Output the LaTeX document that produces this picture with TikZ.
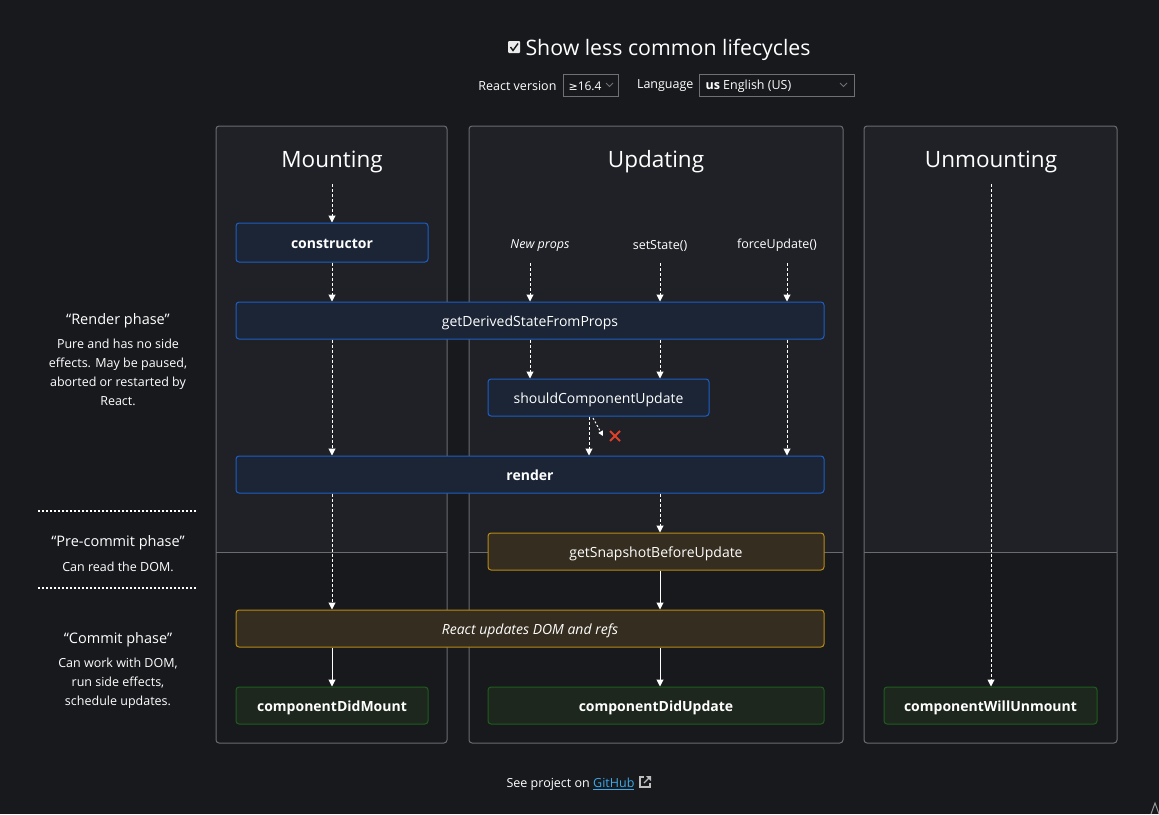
\documentclass[tikz,border=0pt]{standalone}
\usepackage{fontspec}
\setmainfont{Open Sans}
\newfontfamily\symfont{DejaVu Sans}
\usetikzlibrary{arrows.meta}
\definecolor{bg}{HTML}{18191D}
\definecolor{colbg}{HTML}{202126}
\definecolor{colline}{HTML}{6A6B70}
\definecolor{bluebd}{HTML}{1D5FC4}
\definecolor{bluefill}{HTML}{1B2536}
\definecolor{orbd}{HTML}{B98A14}
\definecolor{orfill}{HTML}{352D1F}
\definecolor{grbd}{HTML}{1D5E1D}
\definecolor{grfill}{HTML}{1D271D}
\definecolor{linkc}{HTML}{3DA9E8}
\definecolor{xred}{HTML}{E0402A}
\definecolor{ddgray}{HTML}{6F7075}
\begin{document}
\begin{tikzpicture}[x=1pt,y=-1pt,
  lc/.style={rounded corners=3pt, line width=1pt, minimum height=37pt, inner sep=0pt, text=white, text height=11.5pt, text depth=0pt, font=\fontsize{14}{16}\selectfont},
  bluebox/.style={lc, draw=bluebd, fill=bluefill},
  orbox/.style={lc, draw=orbd, fill=orfill},
  grbox/.style={lc, draw=grbd, fill=grfill},
  dasharr/.style={draw=white, line width=1pt, dash pattern=on 3pt off 2pt, -{Triangle[length=7pt,width=7pt]}},
  solarr/.style={draw=white, line width=1pt, -{Triangle[length=7pt,width=7pt]}},
  coltitle/.style={text=white, font=\fontsize{22.5}{26}\selectfont},
  trig/.style={text=white, font=\fontsize{12.5}{15}\selectfont},
  phasehead/.style={text=white, font=\fontsize{14.5}{17}\selectfont},
  phasetext/.style={text=white, align=center, font=\fontsize{12.5}{19}\selectfont},
  dotline/.style={draw=white, line width=2pt, dash pattern=on 2pt off 2pt},
  colframe/.style={draw=colline, line width=1pt, rounded corners=3pt},
  divider/.style={draw=colline, line width=1pt},
  small/.style={text=white, font=\fontsize{12.5}{15}\selectfont},
  ddbox/.style={draw=ddgray, line width=1pt},
  chev/.style={draw=ddgray, line width=0.9pt},
]
\useasboundingbox (0,0) rectangle (1159,814);
\fill[bg] (0,0) rectangle (1159,814);

% columns
\foreach \xa/\xb in {216/447, 469/843, 864/1117} {
  \fill[colbg, rounded corners=3pt] (\xa,126) rectangle (\xb,552);
  \fill[colbg] (\xa,540) rectangle (\xb,552);
  \draw[colframe] (\xa,126) rectangle (\xb,743);
  \draw[divider] (\xa,552) -- (\xb,552);
}

% top controls
\fill[white!92!black, rounded corners=1pt] (508,41) rectangle (520,53);
\draw[bg, line width=1.4pt] (510.5,47) -- (513,50.5) -- (518,43.5);
\node[text=white, font=\fontsize{21.3}{26}\selectfont, anchor=west] (title) at (522,49.5) {Show less common lifecycles};
\node[small, anchor=east] (rvlabel) at (560,86) {React version};
\draw[ddbox] (563,74) rectangle (618,96);
\node[small, anchor=west, font=\fontsize{12}{14}\selectfont] (rv) at (565,86) {{\symfont\fontsize{11}{14}\selectfont ≥}16.4};
\draw[chev] (606,83) -- (609.5,86.5) -- (613,83);
\node[small, anchor=east] (langlabel) at (697,86) {Language};
\draw[ddbox] (699,74) rectangle (854,96);
\node[small, anchor=west] (lang) at (702,86) {\textbf{us} English (US)};
\draw[chev] (840,83) -- (843.5,86.5) -- (847,83);

% column titles
\node[coltitle] (tmount) at (332,161.5) {Mounting};
\node[coltitle] (tupd) at (656,161.5) {Updating};
\node[coltitle] (tunm) at (991,161.5) {Unmounting};

% lifecycle boxes
\node[bluebox, minimum width=192pt, font=\bfseries\fontsize{14}{16}\selectfont, minimum height=39pt] (ctor) at (332,242.5) {constructor};
\node[bluebox, minimum width=588pt] (gdsfp) at (530,320.5) {getDerivedStateFromProps};
\node[bluebox, minimum width=221pt] (scu) at (598.5,397.5) {shouldComponentUpdate};
\node[bluebox, minimum width=588pt, font=\bfseries\fontsize{14}{16}\selectfont] (render) at (530,474.5) {render};
\node[orbox, minimum width=336pt] (gsbu) at (656,551.5) {getSnapshotBeforeUpdate};
\node[orbox, minimum width=588pt, font=\itshape\fontsize{14}{16}\selectfont] (rud) at (530,628.5) {React updates DOM and refs};
\node[grbox, minimum width=192pt, font=\bfseries\fontsize{14}{16}\selectfont] (cdm) at (332,705.5) {componentDidMount};
\node[grbox, minimum width=336pt, font=\bfseries\fontsize{14}{16}\selectfont] (cdu) at (656,705.5) {componentDidUpdate};
\node[grbox, minimum width=213pt, font=\bfseries\fontsize{14}{16}\selectfont] (cwu) at (990.5,705.5) {componentWillUnmount};

% triggers
\node[trig, font=\itshape\fontsize{12.5}{15}\selectfont] (np) at (540,245.5) {New props};
\node[trig] (ss) at (660,245.5) {setState()};
\node[trig] (fu) at (777,245.5) {forceUpdate()};

% start coordinates
\coordinate (mstart) at (332,184);
\coordinate (ustart) at (991,184);
\coordinate (npa) at (530,263);
\coordinate (ssa) at (660,263);
\coordinate (fua) at (787,263);
\coordinate (noa) at (593,418);
\coordinate (nob) at (603,436);

% mounting arrows
\draw[dasharr] (mstart) -- (ctor.north -| mstart);
\draw[dasharr] (ctor.south -| mstart) -- (gdsfp.north -| mstart);
\draw[dasharr] (gdsfp.south -| mstart) -- (render.north -| mstart);
\draw[dasharr] (render.south -| mstart) -- (rud.north -| mstart);
\draw[solarr] (rud.south -| mstart) -- (cdm.north -| mstart);

% updating arrows
\draw[dasharr] (npa) -- (gdsfp.north -| npa);
\draw[dasharr] (ssa) -- (gdsfp.north -| ssa);
\draw[dasharr] (fua) -- (gdsfp.north -| fua);
\draw[dasharr] (gdsfp.south -| npa) -- (scu.north -| npa);
\draw[dasharr] (gdsfp.south -| ssa) -- (scu.north -| ssa);
\draw[dasharr] (gdsfp.south -| fua) -- (render.north -| fua);
\coordinate (scux) at (589,0);
\draw[dasharr] (scu.south -| scux) -- (render.north -| scux);
\draw[draw=white, line width=1pt, dash pattern=on 2pt off 2pt, -{Triangle[length=5pt,width=5pt]}] (noa) -- (nob);
\node[text=xred, inner sep=0pt] (nox) at (615,436) {\tikz[x=1pt,y=1pt]{\draw[xred, line width=2pt] (-5,-5) -- (5,5) (-5,5) -- (5,-5);}};
\draw[dasharr] (render.south -| ssa) -- (gsbu.north -| ssa);
\draw[solarr] (gsbu.south -| ssa) -- (rud.north -| ssa);
\draw[solarr] (rud.south -| ssa) -- (cdu.north -| ssa);

% unmounting arrow
\draw[dasharr] (ustart) -- (cwu.north -| ustart);

% phase labels
\node[phasehead] (rph) at (118,320.5) {“Render phase”};
\node[phasetext, anchor=north] (rpt) at (118,335) {Pure and has no side\\effects. May be paused,\\aborted or restarted by\\React.};
\coordinate (d1a) at (38,511);
\coordinate (d1b) at (196,511);
\draw[dotline] (d1a) -- (d1b);
\node[phasehead] (pph) at (118,542.5) {“Pre-commit phase”};
\node[phasetext] (ppt) at (118,566.5) {Can read the DOM.};
\coordinate (d2a) at (38,588);
\coordinate (d2b) at (196,588);
\draw[dotline] (d2a) -- (d2b);
\node[phasehead] (cph) at (118,639.5) {“Commit phase”};
\node[phasetext, anchor=north] (cpt) at (118,654) {Can work with DOM,\\run side effects,\\schedule updates.};

% footer
\node[small, anchor=east, inner sep=0pt] (see) at (590,784) {See project on};
\node[anchor=west, inner sep=0pt, text=linkc, font=\fontsize{12.5}{15}\selectfont] (gh) at (593,784) {\underline{GitHub}};
\draw[white!75!black, line width=1.2pt] (644,777) -- (640,777) -- (640,787) -- (650,787) -- (650,783);
\draw[white!75!black, line width=1.2pt] (644,783) -- (650,777);
\fill[white!75!black] (646,776) -- (651,776) -- (651,781) -- cycle;
\draw[white!60!black, line width=1pt] (1151,814) -- (1155,803) -- (1159,814);
\end{tikzpicture}
\end{document}
